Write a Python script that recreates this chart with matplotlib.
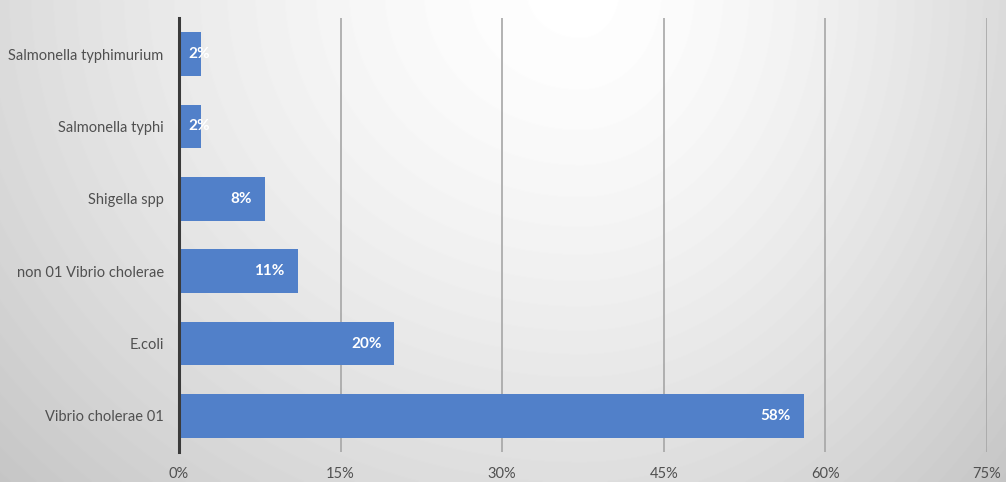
import numpy as np
import matplotlib
matplotlib.use('Agg')
import matplotlib.pyplot as plt

categories = ['Vibrio cholerae 01', 'E.coli', 'non 01 Vibrio cholerae',
              'Shigella spp', 'Salmonella typhi', 'Salmonella typhimurium']
values = [58, 20, 11, 8, 2, 2]
labels = ['58%', '20%', '11%', '8%', '2%', '2%']
xticks = [0, 15, 30, 45, 60, 75]

plt.rcParams['font.family'] = ['Lato', 'DejaVu Sans']

fig = plt.figure(figsize=(10.06, 4.82), dpi=100)

# grey background, lightest near the top centre
bg = fig.add_axes([0, 0, 1, 1], zorder=-10)
yy, xx = np.mgrid[0:482, 0:1006].astype(float)
cx = 580.0
sx = np.where(xx < cx, 580.0, 426.0)
d = np.sqrt(((xx - cx) / sx) ** 2 + ((yy + 10) / 520.0) ** 2)
shade = 1.0 - 0.14 * d ** 1.5
bg.imshow(shade, cmap='gray', vmin=0, vmax=1, aspect='auto', extent=[0, 1, 0, 1])
bg.set_axis_off()

ax = fig.add_axes([179 / 1006, 1 - 452 / 482, 808 / 1006, 434 / 482])
ax.patch.set_alpha(0)

y = np.arange(len(categories))
ax.barh(y, values, height=0.6, color='#5180C9', zorder=3)
for yi, v, lab in zip(y, values, labels):
    if v < 5:
        ax.text(0.85, yi, lab, ha='left', va='center', color='white',
                fontsize=11, fontweight='bold', zorder=4)
    else:
        ax.text(v - 1.2, yi, lab, ha='right', va='center', color='white',
                fontsize=11, fontweight='bold', zorder=4)

ax.set_xlim(0, 75)
ax.set_ylim(-0.5, len(categories) - 0.5)
ax.set_xticks(xticks)
ax.set_xticklabels([f'{t}%' for t in xticks])
ax.set_yticks(y)
ax.set_yticklabels(categories)
ax.tick_params(axis='both', length=0, labelsize=10.5, colors='#505050')
ax.tick_params(axis='x', pad=11)
ax.tick_params(axis='y', pad=11)

ax.grid(axis='x', color='#a6a6a6', linewidth=1.2, zorder=1)
for s in ['top', 'right', 'bottom']:
    ax.spines[s].set_visible(False)
ax.spines['left'].set_color('#3a3a3a')
ax.spines['left'].set_linewidth(2.2)
ax.spines['left'].set_zorder(5)

fig.savefig('out.png', dpi=100)
